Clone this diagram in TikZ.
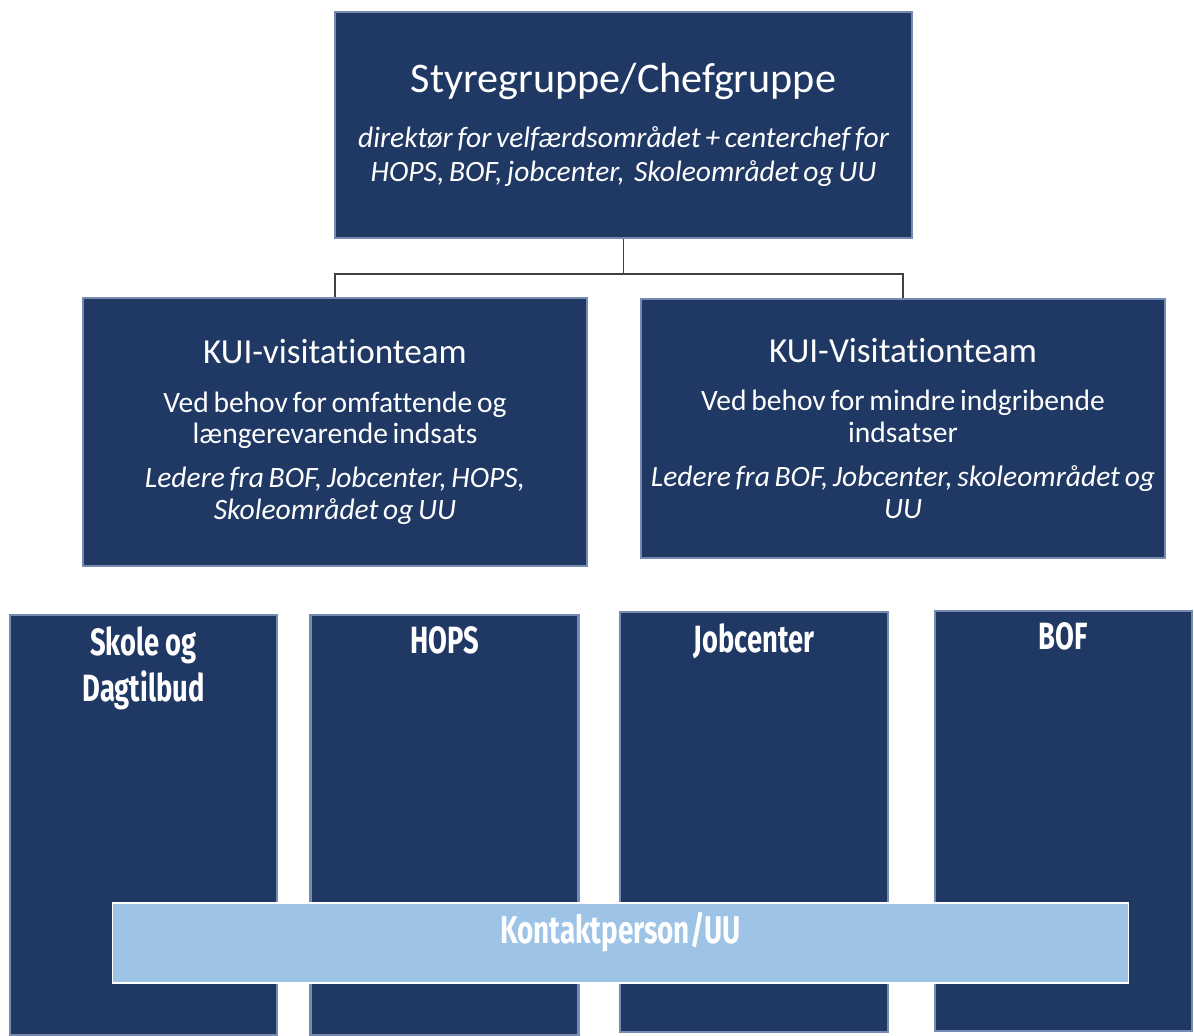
\documentclass[tikz,border=0pt]{standalone}
\usepackage{fontspec}
\setmainfont{Carlito}[Ligatures=NoCommon]
\newfontfamily\colfont[FakeStretch=0.72]{Fira Sans}
\usepackage{tikz}
\usetikzlibrary{ positioning, % For easy node-relative placements
               }
\definecolor{navy}{RGB}{31,56,100}
\definecolor{bevel}{RGB}{118,138,178}
\definecolor{contactblue}{RGB}{157,195,230}
\definecolor{linkgray}{RGB}{64,64,64}

\newcommand{\bigtitle}{\fontsize{30}{36}\selectfont}
\newcommand{\teamtitle}{\fontsize{25}{30}\selectfont}
\newcommand{\bodytext}{\fontsize{21}{22.5}\selectfont}
\newcommand{\toptext}{\fontsize{21}{24}\selectfont}

\tikzstyle{navybox} = [rectangle, fill=navy, draw=bevel, line width=1.5pt, text=white, align=center, inner sep=0pt]
\tikzstyle{team} = [navybox, minimum height=6.6cm]
\tikzstyle{column} = [navybox, anchor=north, minimum height=10.5cm]
\tikzstyle{collabel} = [text=white, align=center, inner sep=0pt, font=\colfont\bfseries\fontsize{27}{33}\selectfont]
\tikzstyle{contact} = [rectangle, fill=contactblue, draw=white, line width=0.8pt, text=white, minimum width=25.4cm, minimum height=2cm, text height=0.6cm, text depth=0.6cm, font=\colfont\bfseries\fontsize{27.5}{32}\selectfont]
\tikzstyle{link} = [draw=linkgray, line width=1.2pt]

\begin{document}
\begin{tikzpicture}[x=0.025cm, y=-0.025cm]
  \useasboundingbox (0,0) rectangle (1194,1036);

  \node (chef) [navybox, text width=14.4cm, minimum height=5.65cm] at (623.5,125) {%
    {\bigtitle Styregruppe/Chefgruppe\par}\vspace{15pt}%
    {\toptext\itshape direktør for velfærdsområdet + centerchef for\\ HOPS, BOF, jobcenter,\ \ Skoleområdet og UU\par}};

  \node (kui_l) [team, text width=12.6cm, minimum height=6.7cm] at (335,432) {%
    {\teamtitle KUI-visitationteam\par}\vspace{12pt}%
    {\bodytext Ved behov for omfattende og\\ længerevarende indsats\par}\vspace{9pt}%
    {\bodytext\itshape Ledere fra BOF, Jobcenter, HOPS,\\ Skoleområdet og UU\par}};

  \node (kui_r) [team, text width=13.1cm, minimum height=6.47cm] at (903,428.5) {%
    {\teamtitle KUI-Visitationteam\par}\vspace{12pt}%
    {\bodytext Ved behov for mindre indgribende\\ indsatser\par}\vspace{9pt}%
    {\bodytext\itshape Ledere fra BOF, Jobcenter, skoleområdet og\\ UU\par}};

  \path [link] (chef.south) -- ++(0,35) -| (kui_l.north);
  \path [link] (chef.south) -- ++(0,35) -| (kui_r.north);

  \node (skole) [column, minimum width=6.675cm] at (143.5,614) {};
  \node (hops) [column, minimum width=6.7cm] at (444.5,614) {};
  \node (job) [column, minimum width=6.7cm] at (754,611) {};
  \node (bof) [column, minimum width=6.425cm] at (1063.5,610) {};

  \node (skole_lbl) [collabel, below=0.3cm of skole.north] {Skole og\\Dagtilbud};
  \node (hops_lbl) [collabel, below=0.3cm of hops.north] {HOPS};
  \node (job_lbl) [collabel, below=0.3cm of job.north] {Jobcenter};
  \node (bof_lbl) [collabel, below=0.3cm of bof.north] {BOF};

  \node (contact) [contact] at (620.5,943) {Kontaktperson/UU};
\end{tikzpicture}
\end{document}
